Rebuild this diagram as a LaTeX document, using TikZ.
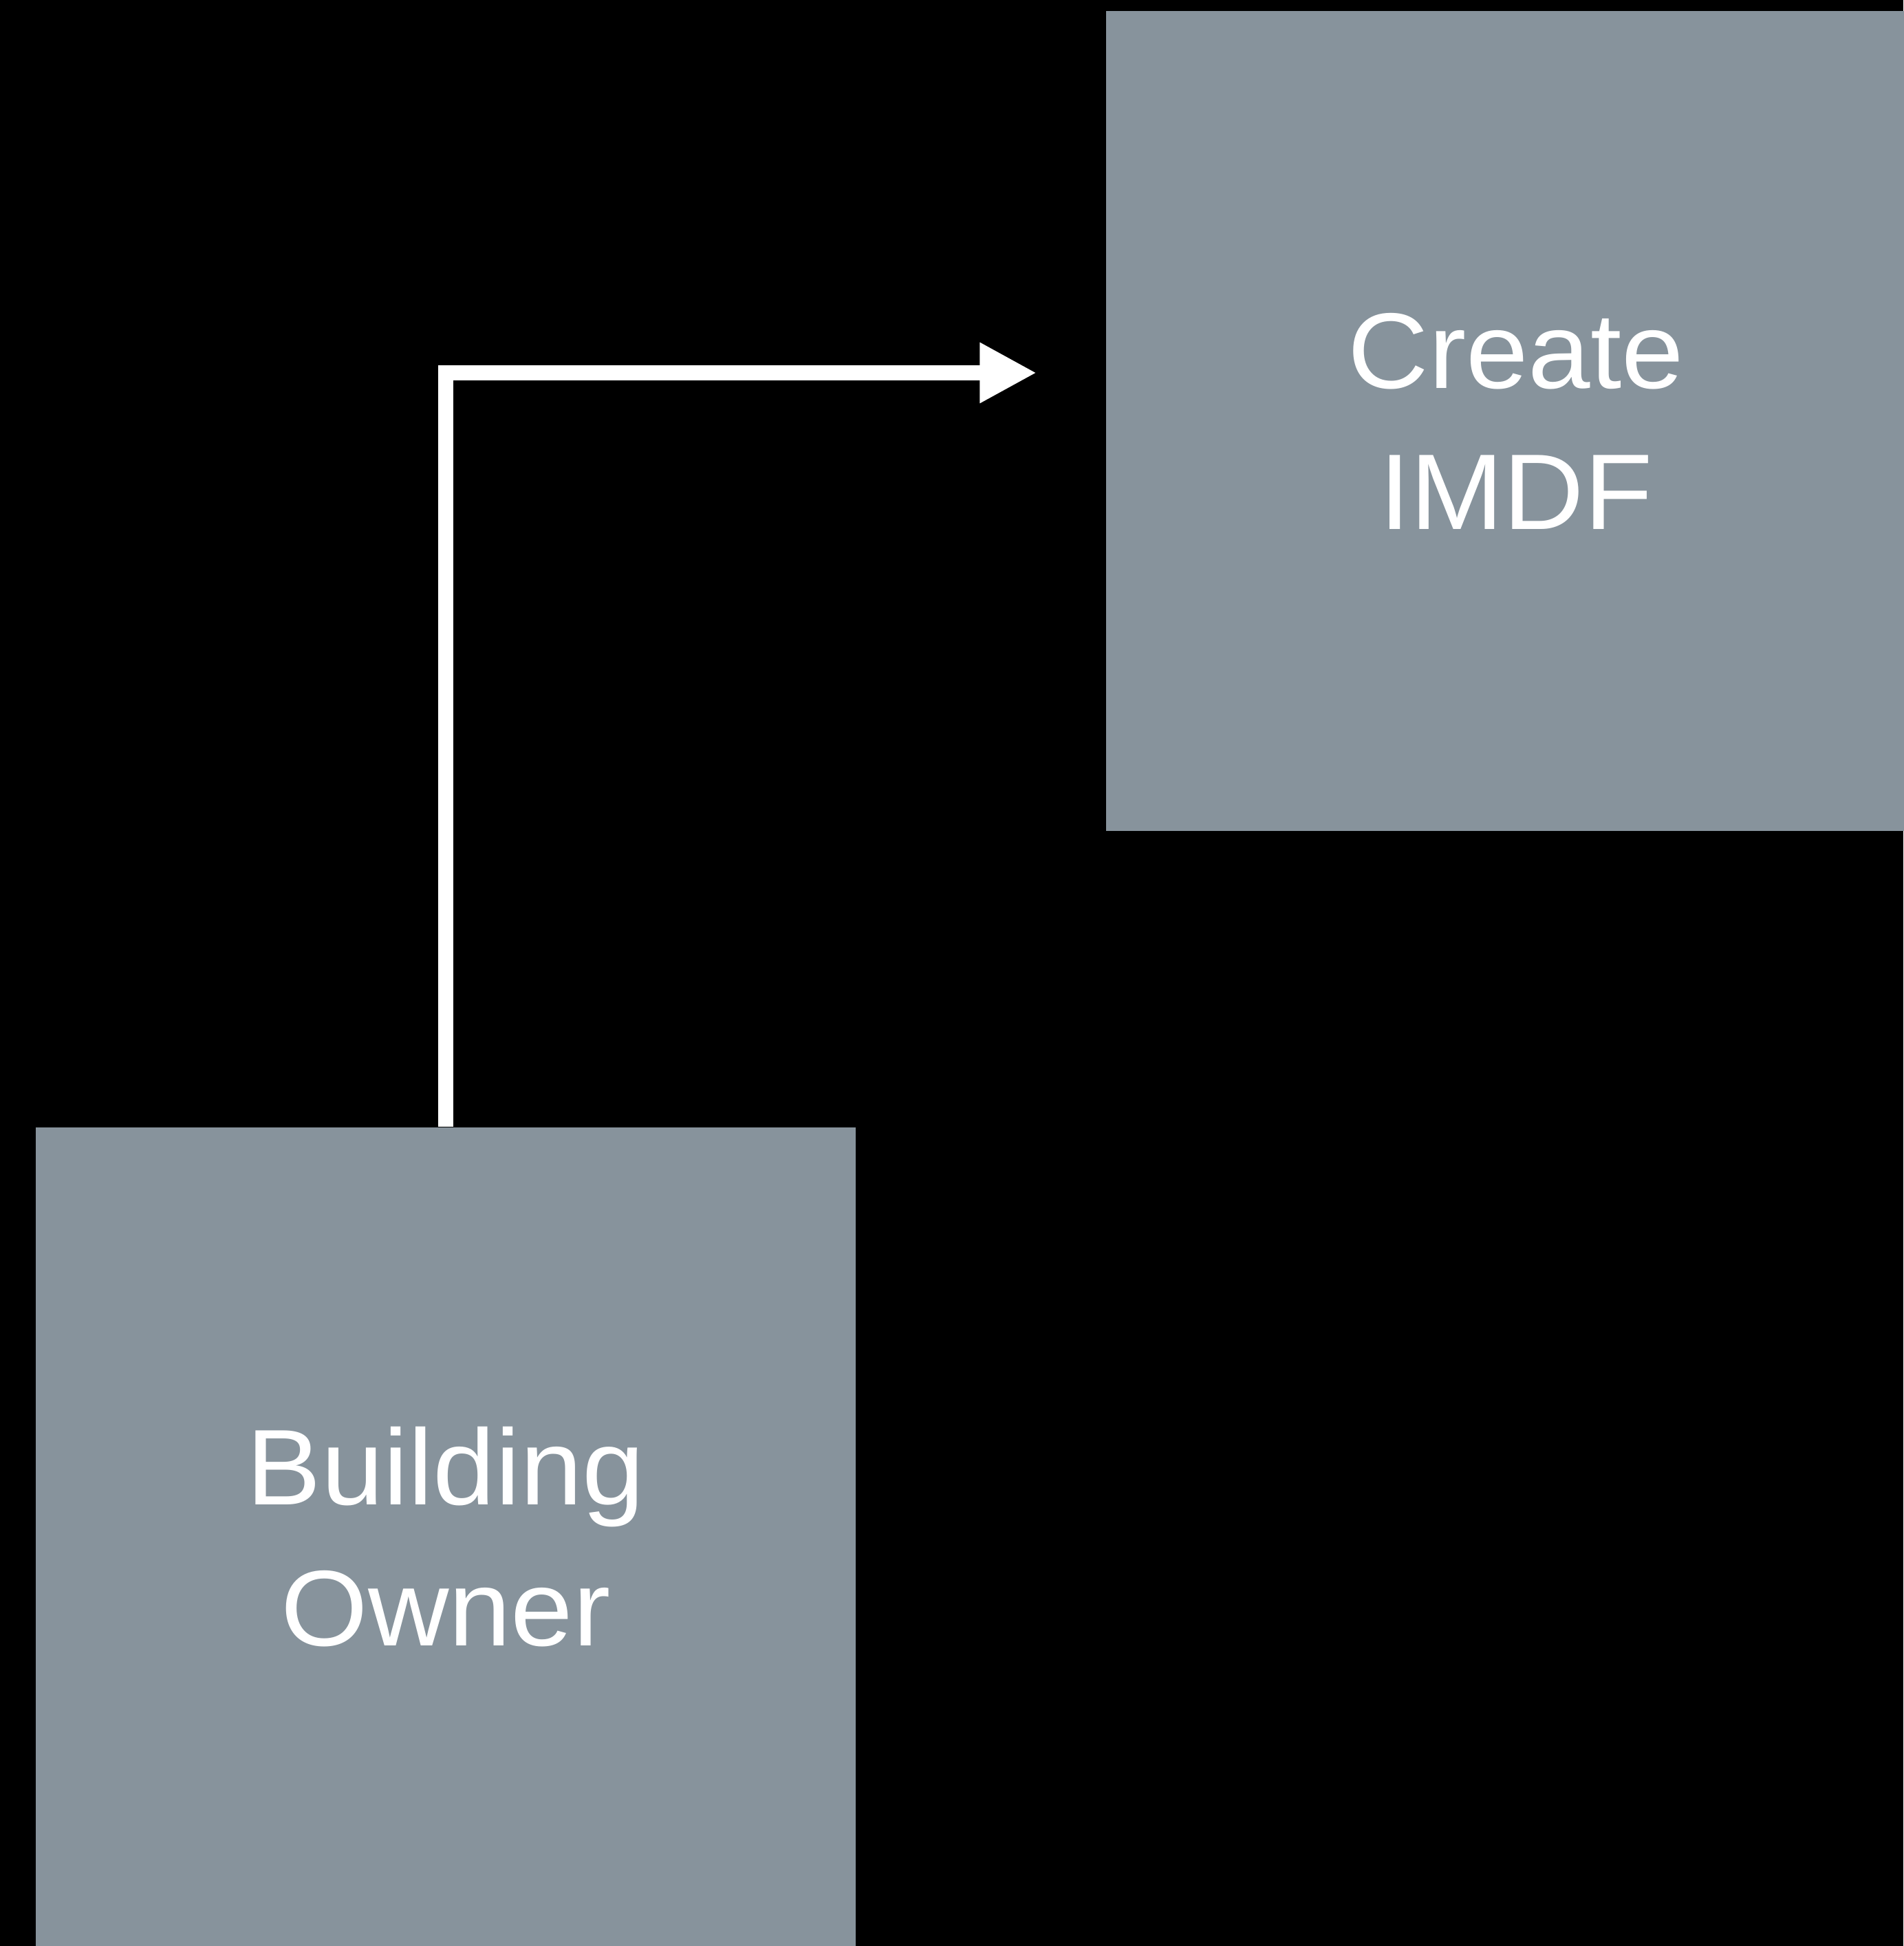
\documentclass[tikz,border=0pt]{standalone}
\usepackage{fontspec}
\usepackage{tikz}
\usetikzlibrary{arrows.meta,positioning}
\newfontfamily\tilefont[FakeStretch=1.04]{Liberation Sans}
\definecolor{tilegray}{RGB}{135,147,156}

\begin{document}
\begin{tikzpicture}[
  tile/.style={fill=tilegray,draw=none,text=white,align=center,inner sep=0pt,
    minimum width=11.92cm,minimum height=11.92cm,
    font=\tilefont\fontsize{44.5}{58.3}\selectfont},
  flow/.style={draw=white,line width=0.215cm,-{Triangle[length=0.827cm,width=0.824cm]}}
]
\fill [black] (0,0) rectangle (27.67,-28.29);
\useasboundingbox (0,0) rectangle (27.67,-28.29);
% boxes
\node [tile] (imdf) at (22.04,-6.12) {Create\\IMDF};
\node [tile] (owner) at (6.48,-22.345) {Building\\Owner};
% connector
\coordinate (tip) at (15.07,-5.42);
\draw [flow] (owner.north) |- (tip);
\end{tikzpicture}
\end{document}
